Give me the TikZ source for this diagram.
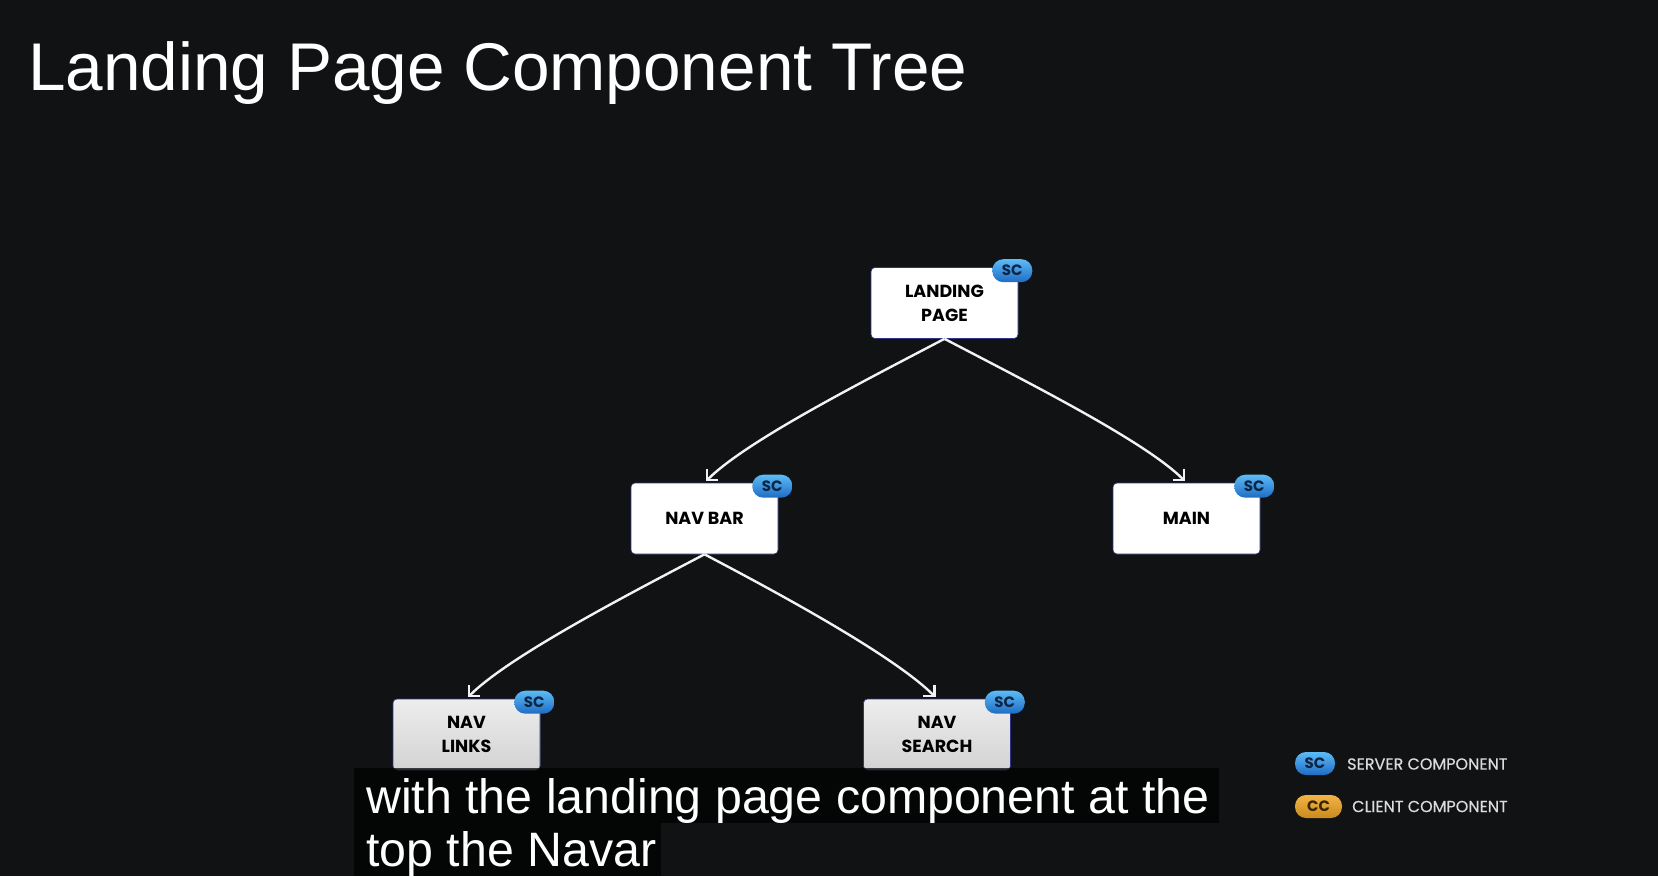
\documentclass[tikz,border=0pt]{standalone}
\usepackage{fontspec}
\setmainfont{Liberation Sans}
\newfontfamily\popfont{Poppins}
\newfontfamily\popmed[FakeBold=0.5]{Poppins}
\usetikzlibrary{arrows.meta}

\definecolor{bgdark}{HTML}{111213}
\definecolor{edgewhite}{HTML}{F2F2F2}
\definecolor{boxedge}{HTML}{2E3585}
\definecolor{greytop}{HTML}{EDEDED}
\definecolor{greybot}{HTML}{D3D3D3}
\definecolor{sctop}{HTML}{5CBBF6}
\definecolor{scbot}{HTML}{1F6CC4}
\definecolor{sctext}{HTML}{0B2545}
\definecolor{cctop}{HTML}{F2B445}
\definecolor{ccbot}{HTML}{C98A1E}
\definecolor{cctext}{HTML}{3A2400}
\definecolor{legendtext}{HTML}{DCDCDC}

\tikzset{
  comp/.style={rectangle, rounded corners=4pt, minimum width=147pt,
    minimum height=71pt, inner sep=0pt, fill=white, draw=boxedge,
    line width=0.6pt, align=center, text=black,
    font=\popfont\bfseries\fontsize{17.5}{24}\selectfont},
  compgrey/.style={comp, top color=greytop, bottom color=greybot},
  badge/.style={rectangle, rounded corners=11pt, minimum width=40pt,
    minimum height=23pt, inner sep=0pt, top color=sctop, bottom color=scbot,
    text=sctext, font=\popfont\bfseries\fontsize{15}{15}\selectfont},
  ccbadge/.style={badge, minimum width=47pt, top color=cctop,
    bottom color=ccbot, text=cctext},
  legendlabel/.style={anchor=west, inner sep=0pt, text=legendtext,
    font=\popmed\fontsize{16}{16}\selectfont},
  link/.style={draw=edgewhite, line width=2.4pt,
    -{Straight Barb[length=8pt,width=16pt,line width=2.4pt]}, shorten >=2pt},
  captionbox/.style={fill=black, fill opacity=0.72, draw=none},
  captiontext/.style={anchor=base west, inner sep=0pt, text=white,
    font=\fontsize{48.3}{48}\selectfont}
}

\begin{document}
\begin{tikzpicture}[x=1pt,y=-1pt]
\useasboundingbox (0,0) rectangle (1658,876);
\fill[bgdark] (0,0) rectangle (1658,876);

% heading
\node[anchor=base west, inner sep=0pt, text=white,
  font=\fontsize{67.5}{67.5}\selectfont] (title) at (28,90) {Landing Page Component Tree};

% component boxes
\node[comp] (lp) at (944.5,303) {LANDING\\PAGE};
\node[comp] (nb) at (704.5,518.5) {NAV BAR};
\node[comp] (mn) at (1186.5,518.5) {MAIN};
\node[compgrey] (nl) at (466.5,734.5) {NAV\\LINKS};
\node[compgrey] (ns) at (937,734.5) {NAV\\SEARCH};

% server-component badges
\node[badge] (lpsc) at ([xshift=-6pt,yshift=-3.5pt]lp.north east) {SC};
\node[badge] (nbsc) at ([xshift=-6pt,yshift=-3.5pt]nb.north east) {SC};
\node[badge] (mnsc) at ([xshift=-6pt,yshift=-3.5pt]mn.north east) {SC};
\node[badge] (nlsc) at ([xshift=-6pt,yshift=-3.5pt]nl.north east) {SC};
\node[badge] (nssc) at ([xshift=-6pt,yshift=-3.5pt]ns.north east) {SC};

% tree connectors
\draw[link] (lp.south) .. controls +(-80,42) and +(42,-42) .. (nb.north);
\draw[link] (lp.south) .. controls +(80,42) and +(-42,-42) .. (mn.north);
\draw[link] (nb.south) .. controls +(-80,42) and +(42,-42) .. (nl.north);
\draw[link] (nb.south) .. controls +(80,42) and +(-42,-42) .. (ns.north);

% legend
\node[badge] (legsc) at (1315,763.5) {SC};
\node[legendlabel] (legsctext) at (1347,764) {SERVER COMPONENT};
\node[ccbadge] (legcc) at (1318.5,806.5) {CC};
\node[legendlabel] (legcctext) at (1352,806.5) {CLIENT COMPONENT};

% subtitle strip
\fill[captionbox] (354,768) rectangle (1219,823);
\fill[captionbox] (354,823) rectangle (661,876);
\node[captiontext] (cap1) at (366,813) {with the landing page component at the};
\node[captiontext] (cap2) at (366,866) {top the Navar};
\end{tikzpicture}
\end{document}
